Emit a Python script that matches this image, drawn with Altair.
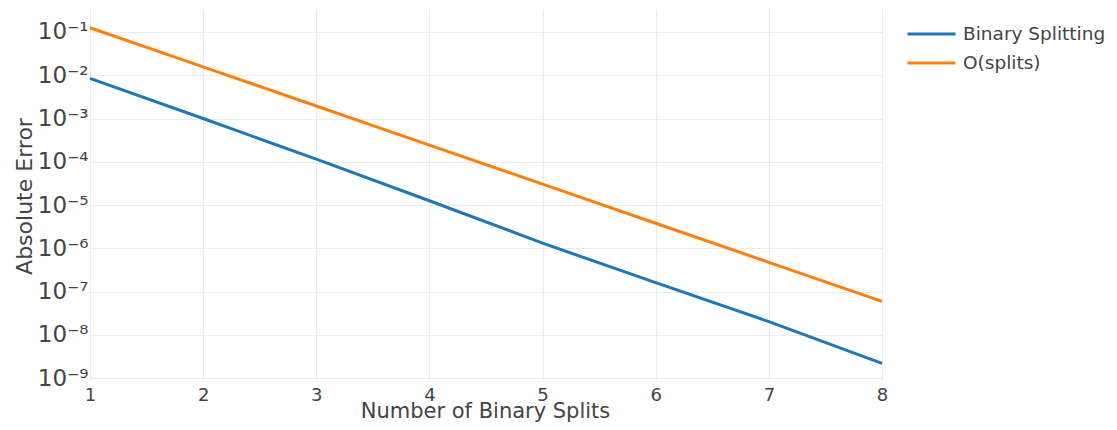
import altair as alt
import pandas as pd

# ---- data ----
splits = [1, 2, 3, 4, 5, 6, 7, 8]
binary_splitting = [8.5e-3, 1.0e-3, 1.15e-4, 1.26e-5, 1.32e-6, 1.62e-7, 2.04e-8, 2.2e-9]
o_splits = [1.25e-1, 1.56e-2, 1.95e-3, 2.44e-4, 3.05e-5, 3.81e-6, 4.77e-7, 5.96e-8]
series_names = ["Binary Splitting", "O(splits)"]
series_colors = ["#1f77b4", "#ff7f0e"]
y_ticks = [1e-1, 1e-2, 1e-3, 1e-4, 1e-5, 1e-6, 1e-7, 1e-8, 1e-9]
x_ticks = [1, 2, 3, 4, 5, 6, 7, 8]
y_domain = [10 ** -9.04, 10 ** -0.47]

rows = []
for name, vals in zip(series_names, [binary_splitting, o_splits]):
    for s, v in zip(splits, vals):
        rows.append({"splits": s, "error": v, "series": name})
df = pd.DataFrame(rows)

FONT = "DejaVu Sans"
TXT = "#444444"
GRID = "#ebebeb"

sup_expr = ("'10' + '\u207b' + ['\u2070','\u00b9','\u00b2','\u00b3','\u2074','\u2075','\u2076','\u2077','\u2078','\u2079']"
            "[round(-log(datum.value)/LN10)]")

chart = alt.Chart(df).mark_line(strokeWidth=3).encode(
    x=alt.X(
        "splits:Q",
        scale=alt.Scale(domain=[1, 8], nice=False, zero=False),
        axis=alt.Axis(
            values=x_ticks, format="d", title="Number of Binary Splits",
            grid=True, gridColor=GRID, gridWidth=1, domain=False, ticks=False,
            labelFont=FONT, labelFontSize=18, labelColor=TXT, labelPadding=6,
            titleFont=FONT, titleFontSize=21, titleFontWeight="normal", titleColor=TXT,
            titleX=395, titleY=37, titleAnchor="middle", titleAlign="center", titleBaseline="alphabetic",
            labelFlush=False,
        ),
    ),
    y=alt.Y(
        "error:Q",
        scale=alt.Scale(type="log", domain=y_domain, nice=False),
        axis=alt.Axis(
            values=y_ticks, labelExpr=sup_expr, title="Absolute Error",
            grid=True, gridColor=GRID, gridWidth=1, domain=False, ticks=False,
            labelFont=FONT, labelFontSize=23, labelColor=TXT, labelPadding=2,
            labelBaseline="middle", labelFlush=False,
            titleFont=FONT, titleFontSize=22, titleFontWeight="normal", titleColor=TXT,
            titleX=-66, titleY=187, titleAngle=-90, titleAlign="center", titleBaseline="middle",
        ),
    ),
    color=alt.Color(
        "series:N",
        scale=alt.Scale(domain=series_names, range=series_colors),
        legend=alt.Legend(
            title=None, orient="none", legendX=816, legendY=17,
            symbolType="stroke", symbolSize=2304, symbolStrokeWidth=3,
            labelFont=FONT, labelFontSize=18.5, labelColor=TXT, labelOffset=6,
            clipHeight=16, rowPadding=10, labelLimit=300,
        ),
    ),
).properties(
    width=792,
    height=371,
    padding={"left": 82, "top": 1, "right": 227, "bottom": 42},
    autosize=alt.AutoSizeParams(type="none"),
).configure_view(stroke=None)

chart.save("out.html", embed_options={"renderer": "svg", "actions": False})
